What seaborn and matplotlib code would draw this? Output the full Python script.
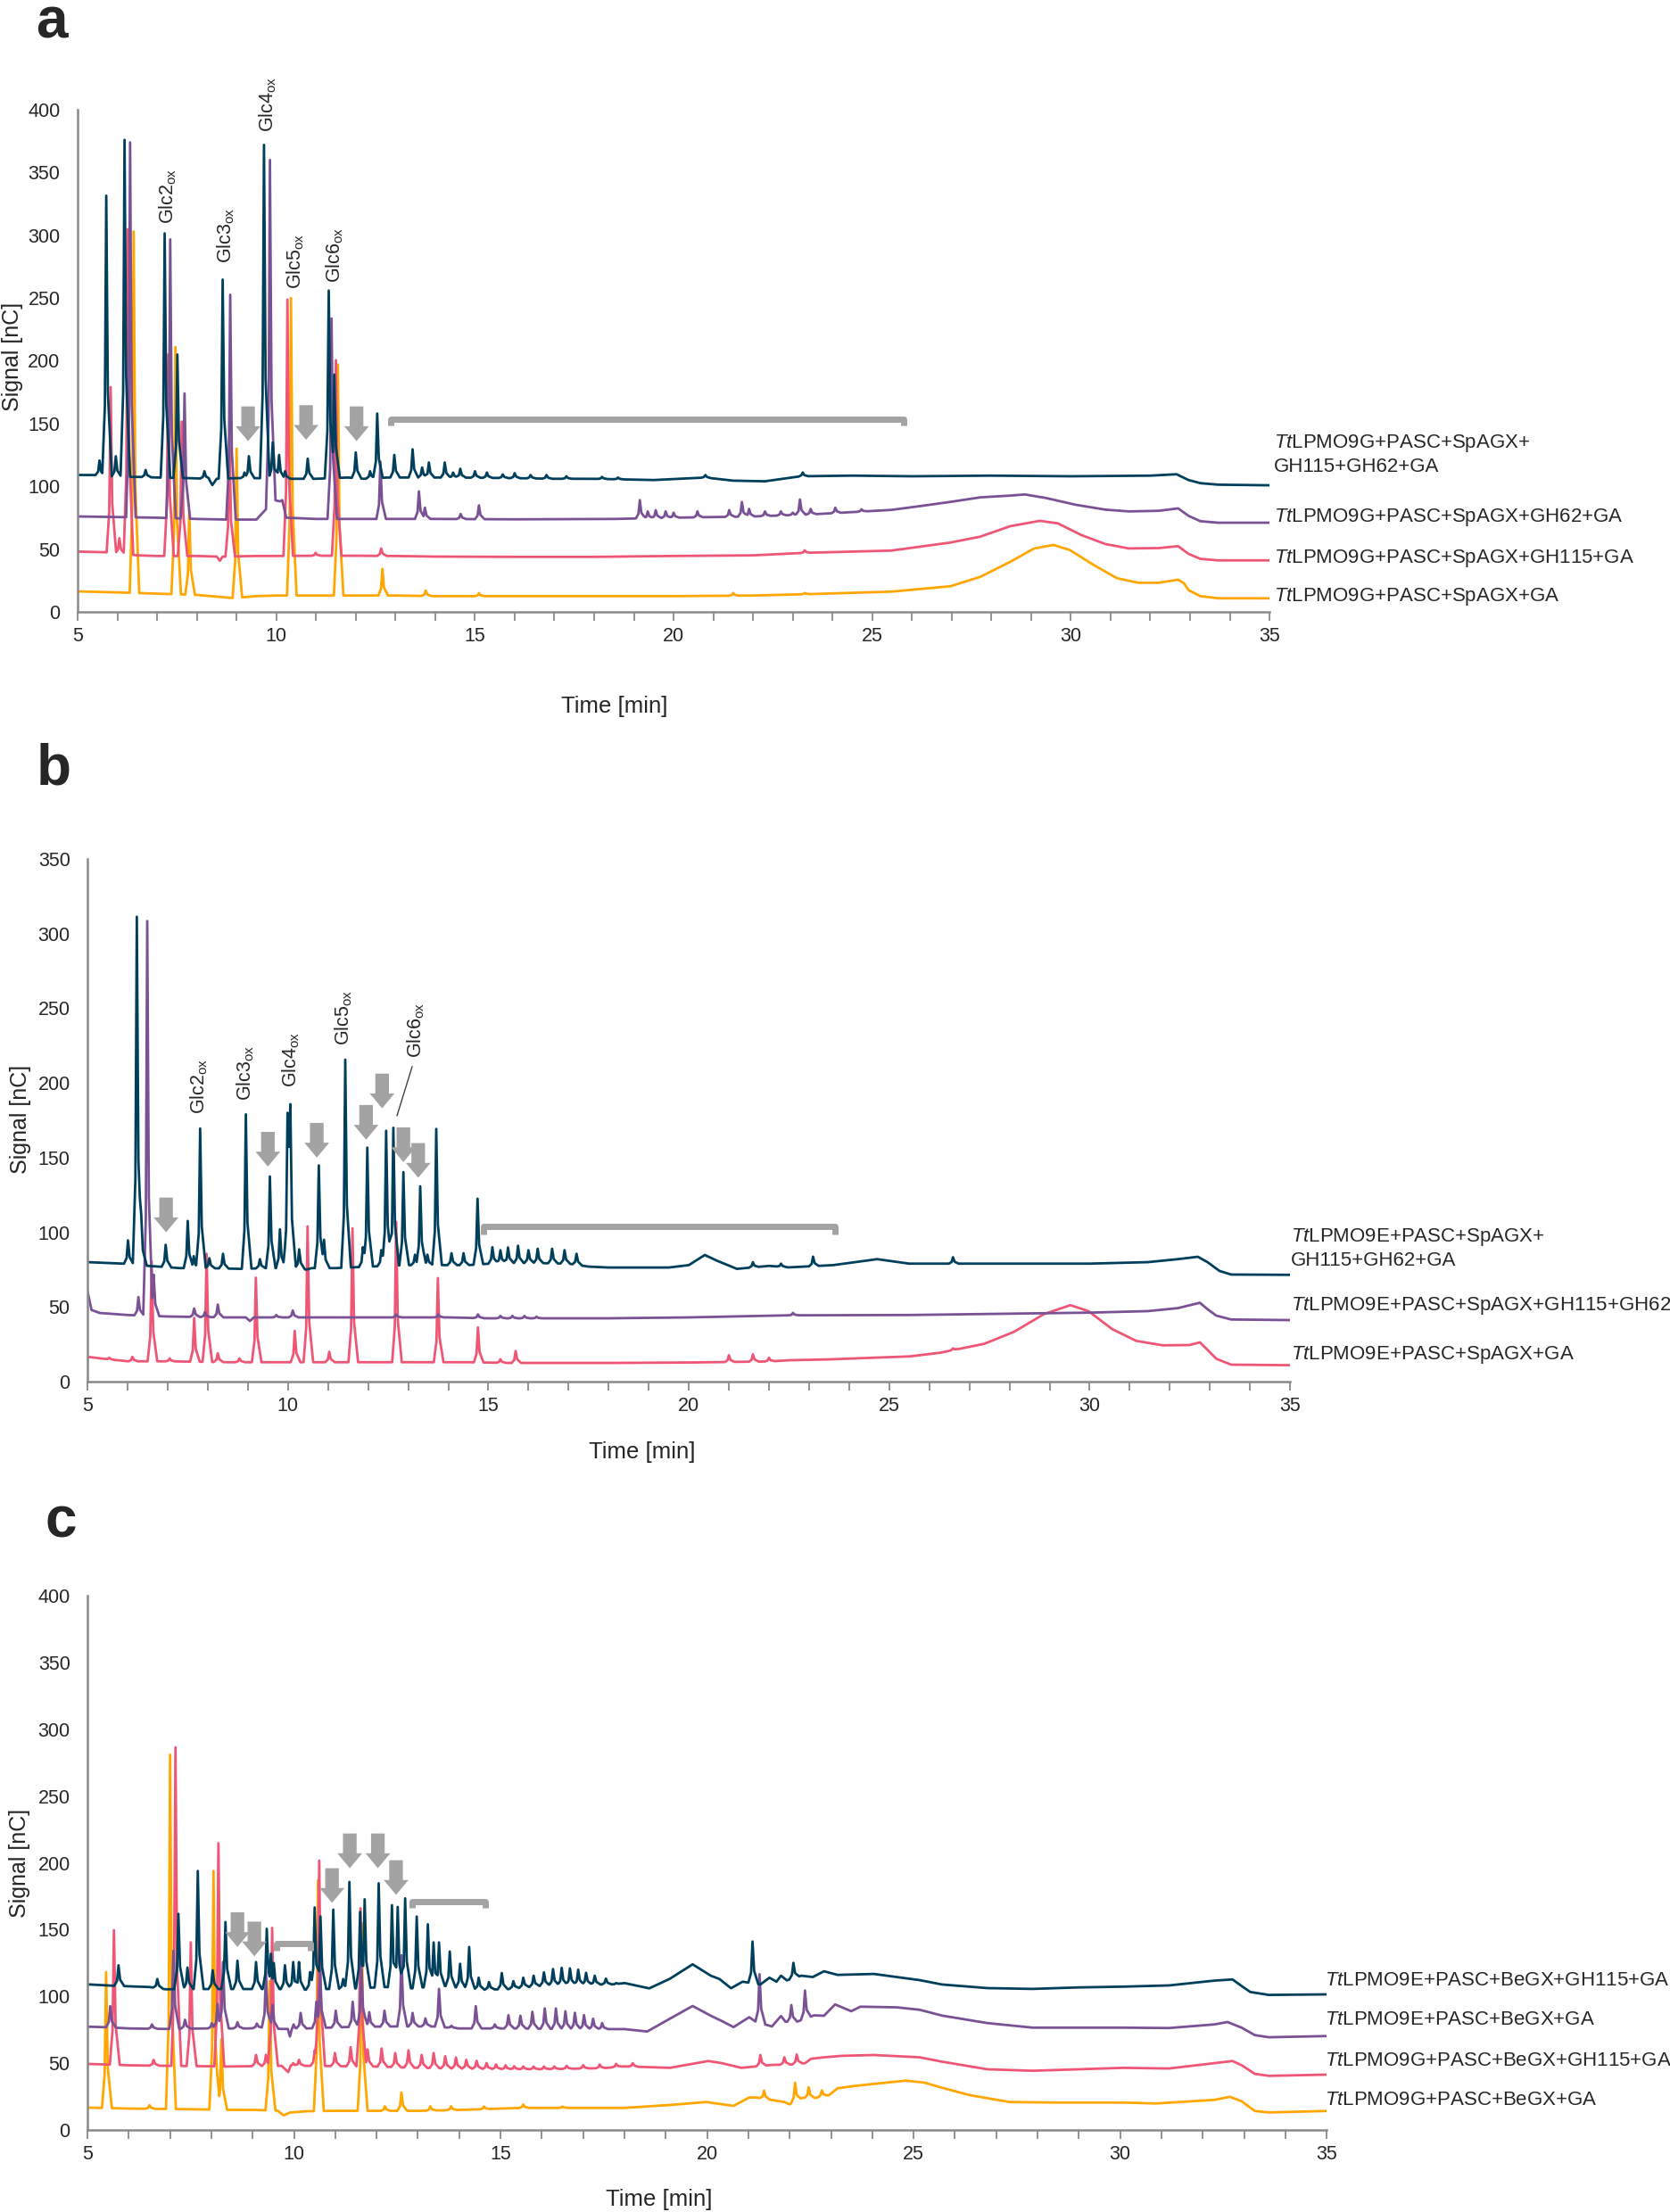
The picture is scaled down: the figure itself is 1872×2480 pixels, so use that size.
import numpy as np
import pandas as pd
import seaborn as sns
import matplotlib.pyplot as plt
from matplotlib.ticker import MultipleLocator

# ---------------- panel a : TtLPMO9G + SpAGX ----------------
a_navy_base_t = [5.0, 5.45, 5.62, 5.85, 6.05, 6.5, 7.0, 7.8, 8.3, 8.39, 8.5, 9.0, 9.5, 10.4, 11.0, 11.8, 12.2, 12.8, 13.5, 14.5,
                 16.0, 17.0, 18.0, 19.5, 20.8, 21.5, 22.3, 23.2, 24.5, 26.0, 28.0, 30.0, 32.0, 32.66, 32.96, 33.26, 33.71, 35.0]
a_navy_base_v = [109, 109, 108, 108, 107.5, 107.5, 107, 106.5, 106, 101, 106, 106.5, 106.5, 106, 106, 107, 106, 107, 107, 107,
                 106.5, 106, 106, 105, 107, 104.5, 104, 108, 108.5, 108, 108.5, 108, 108.5, 109.6, 105, 102.5, 101.3, 100.8]
a_navy_peak_t = [5.55, 5.72, 5.96, 6.18, 6.71, 7.19, 7.51, 8.19, 8.65, 9.2, 9.31, 9.69, 9.91, 10.07, 10.22, 10.79, 11.32, 11.46,
                 12.0, 12.36, 12.54, 12.97, 13.43, 13.67, 13.84, 14.24, 14.45, 14.63, 15.0, 15.3, 15.7, 16.0, 16.4, 16.8, 17.3,
                 18.2, 18.6, 20.8, 23.25]
a_navy_peak_v = [120.6, 331.5, 124, 376, 113, 301.5, 205, 112, 264.7, 111, 124, 372, 135, 125, 112, 122, 256, 189,
                 127, 112, 158, 125, 129.5, 115, 119, 119, 111, 114, 112, 111, 109.5, 110.5, 109, 109, 108,
                 107.5, 107, 109, 111]

a_purple_base_t = [5.0, 6.0, 7.0, 8.0, 8.75, 8.8, 8.85, 9.5, 9.95, 10.1, 10.15, 10.25, 11.0, 12.0, 14.0, 16.0, 18.5, 20.0,
                   22.0, 23.5, 25.48, 26.22, 26.97, 27.72, 28.47, 28.84, 29.37, 30.12, 30.87, 31.46, 32.21, 32.7, 32.96,
                   33.26, 33.71, 35.0]
a_purple_base_v = [76, 75.5, 75, 74, 73.5, 70, 73.5, 73.5, 89, 88, 89, 75, 74, 74, 74, 73.7, 74, 75,
                   76, 77.7, 81.2, 84.3, 87.6, 91.2, 92.6, 93.5, 90.7, 85.3, 81.4, 80, 80.5, 82.4, 76.5,
                   72.2, 71, 71]
a_purple_peak_t = [6.32, 7.33, 7.69, 8.84, 9.84, 11.39, 12.62, 13.59, 13.74, 14.64, 15.1, 19.15, 19.35, 19.55, 19.8, 20.0,
                   20.6, 21.4, 21.72, 21.9, 22.3, 22.7, 23.0, 23.18, 23.45, 24.07, 24.73]
a_purple_peak_v = [374, 296.7, 174, 252.6, 360, 233.7, 119.6, 96, 83, 78, 84.8, 89, 80, 81, 80, 79,
                   80, 81, 87.5, 82, 80, 80, 79, 89.5, 82, 83, 81.7]

a_pink_base_t = [5.0, 5.7, 6.5, 7.0, 8.0, 8.5, 8.58, 8.65, 9.5, 10.0, 11.0, 12.0, 13.0, 14.0, 16.0, 18.0, 20.0, 22.0, 23.3,
                 25.48, 26.97, 27.72, 28.47, 29.22, 29.67, 30.27, 30.87, 31.46, 32.21, 32.7, 32.96, 33.26, 33.71, 35.0]
a_pink_base_v = [48, 47.5, 45, 44.5, 44.5, 44, 40.7, 44, 44.5, 44.5, 44.7, 44.7, 44.5, 44, 43.8, 43.8, 44.5, 45, 47,
                 48.8, 55.2, 59.9, 68.2, 72.5, 70.5, 61.1, 54, 50.5, 50.8, 52.3, 46.2, 42.2, 41, 41]
a_pink_peak_t = [5.83, 6.05, 6.26, 7.28, 7.62, 8.82, 10.28, 10.99, 11.5, 12.64, 23.3]
a_pink_peak_v = [179, 58.7, 304.8, 205, 151.6, 138.5, 248.7, 47, 200.5, 50.5, 49]

a_orange_base_t = [5.0, 6.0, 7.0, 8.0, 8.9, 9.5, 10.0, 11.0, 12.0, 13.0, 14.0, 16.0, 18.0, 20.0, 22.0, 23.5, 25.48, 26.97,
                   27.72, 28.47, 29.07, 29.56, 29.97, 30.57, 31.16, 31.69, 32.21, 32.7, 32.85, 32.96, 33.26, 33.71, 35.0]
a_orange_base_v = [16.3, 15.5, 14.5, 13.5, 11, 12.5, 13, 13, 13, 13, 12.5, 12.5, 12.5, 12.5, 13, 14.2, 16.1, 20.4,
                   27.9, 39.8, 50.4, 53.3, 49.3, 37.4, 26.8, 23.2, 23.2, 25.6, 22.7, 17.3, 12.5, 10.8, 10.8]
a_orange_peak_t = [6.41, 7.46, 7.81, 9.0, 10.37, 11.55, 12.67, 13.76, 15.1, 21.5, 23.3]
a_orange_peak_v = [303, 211, 80, 130, 250, 197, 34.2, 17, 14.9, 15, 15]

a_labels = ['$\\it{Tt}$LPMO9G+PASC+SpAGX+\nGH115+GH62+GA', '$\\it{Tt}$LPMO9G+PASC+SpAGX+GH62+GA',
            '$\\it{Tt}$LPMO9G+PASC+SpAGX+GH115+GA', '$\\it{Tt}$LPMO9G+PASC+SpAGX+GA']
a_label_v = [125.5, 75, 42.5, 12]
a_glc_names = ['Glc2', 'Glc3', 'Glc4', 'Glc5', 'Glc6']
a_glc_t = [7.27, 8.73, 9.78, 10.49, 11.46]
a_glc_v = [309, 278, 382, 257, 262]
a_arrow_t = [9.29, 10.75, 12.02]
a_arrow_v = [136, 137, 136]
a_bracket = [(12.88, 25.8, 153.7)]

# ---------------- panel b : TtLPMO9E + SpAGX ----------------
b_navy_base_t = [5.0, 5.9, 6.5, 6.8, 7.3, 8.0, 8.8, 9.5, 10.3, 10.45, 10.6, 11.2, 12.0, 13.0, 14.0, 14.5, 15.3, 16.0, 17.0,
                 17.5, 18.0, 19.5, 20.0, 20.4, 20.7, 21.2, 22.0, 22.5, 23.6, 24.7, 25.5, 27.0, 30.0, 31.45, 32.2, 32.7,
                 32.94, 33.24, 33.53, 35.0]
b_navy_base_v = [80, 79, 77.5, 77, 76, 76, 75.5, 76, 76, 75, 76, 76, 77, 78, 78, 78, 79.5, 79.5, 79,
                 77, 76.4, 76.4, 78, 84.8, 81, 75.5, 77.5, 76.5, 78, 82, 79, 79, 79, 80, 82, 83.6,
                 80, 74.1, 71.7, 71.5]
b_navy_peak_t = [6.01, 6.23, 6.34, 6.95, 7.5, 7.65, 7.81, 8.04, 8.38, 8.95, 9.3, 9.55, 9.8, 9.99, 10.025, 10.06, 10.28,
                 10.77, 10.9, 11.43, 11.87, 11.98, 12.33, 12.45, 12.63, 12.88, 13.17, 13.3, 13.48, 13.7, 14.08, 14.38,
                 14.73, 15.1, 15.3, 15.49, 15.74, 16.0, 16.23, 16.59, 16.9, 17.2, 21.6, 22.3, 23.1, 26.59]
b_navy_peak_v = [94.6, 311.3, 112, 91.6, 107.6, 84, 169.5, 82.6, 85.6, 179, 82, 137.4, 102, 180, 165, 185.8, 88.6,
                 144.8, 95, 215.6, 90, 156.7, 88, 168, 170, 140.3, 85, 130.8, 85, 169.2, 86, 86,
                 122.5, 90, 88, 89.8, 91, 88, 89, 89, 88, 85.6, 80, 79, 83.7, 83.3]

b_purple_base_t = [5.0, 5.1, 5.3, 6.0, 7.0, 8.5, 8.95, 9.05, 9.15, 10.0, 12.0, 14.0, 15.0, 18.0, 20.0, 22.5, 25.5, 30.0,
                   31.45, 32.2, 32.75, 32.94, 33.16, 33.53, 35.0]
b_purple_base_v = [60.6, 48, 46, 44.6, 43.6, 43, 43, 40.6, 43, 43, 43, 43, 42.4, 42.4, 43, 44.4, 44.6, 46.2,
                   47.2, 49.2, 52.8, 48.5, 44.2, 41.6, 41.2]
b_purple_peak_t = [6.27, 6.49, 6.65, 7.66, 7.93, 8.25, 9.71, 10.12, 12.7, 13.75, 14.74, 15.3, 15.6, 15.9, 16.2, 22.6]
b_purple_peak_v = [56.6, 308.4, 71.6, 49, 46.6, 51.6, 44.6, 47.6, 45, 45, 45, 44, 44, 44, 43.5, 46]

b_pink_base_t = [5.0, 5.5, 6.0, 7.0, 8.5, 9.5, 10.5, 11.5, 12.5, 13.5, 14.5, 15.5, 16.0, 18.0, 20.0, 22.0, 22.5, 23.5,
                 25.52, 26.26, 27.37, 28.11, 28.86, 29.52, 29.97, 30.56, 31.16, 31.82, 32.49, 32.75, 32.94, 33.16,
                 33.53, 35.0]
b_pink_base_v = [16.6, 15, 13.6, 13.6, 13, 13, 13, 13, 13, 13, 13, 12.5, 12.5, 12.5, 12.8, 13.5, 14.3, 14.9,
                 16.9, 19.3, 25.3, 33.3, 45.2, 51.2, 47.2, 35.2, 27.3, 24.3, 24.5, 26.3, 21.3, 15.3,
                 11.35, 11]
b_pink_peak_t = [5.54, 6.12, 6.6, 7.05, 7.66, 7.97, 8.25, 8.79, 9.2, 10.17, 10.49, 11.03, 11.61, 12.7, 13.74, 14.74,
                 15.3, 15.68, 21.0, 21.6, 22.0, 26.59]
b_pink_peak_v = [16, 16.6, 80.6, 15.5, 42.6, 85.6, 19, 15.6, 69.6, 34, 104, 20, 102.6, 107, 69.3, 36.3,
                 15, 20.5, 17.7, 18.3, 16, 22.3]

b_labels = ['$\\it{Tt}$LPMO9E+PASC+SpAGX+\nGH115+GH62+GA', '$\\it{Tt}$LPMO9E+PASC+SpAGX+GH115+GH62',
            '$\\it{Tt}$LPMO9E+PASC+SpAGX+GA']
b_label_v = [89.5, 51, 18]
b_glc_names = ['Glc2', 'Glc3', 'Glc4', 'Glc5', 'Glc6']
b_glc_t = [7.78, 8.95, 10.08, 11.38, 13.2]
b_glc_v = [179, 188, 197, 225, 217]
b_arrow_t = [6.96, 9.5, 10.72, 11.95, 12.35, 12.88, 13.25]
b_arrow_v = [100, 144, 150, 162, 183, 147, 136.5]
b_bracket = [(14.88, 23.65, 103.7)]

# ---------------- panel c : BeGX ----------------
c_navy_base_t = [5.0, 5.6, 6.5, 6.9, 7.3, 7.9, 8.5, 9.0, 9.6, 10.3, 10.8, 11.5, 12.2, 12.85, 13.6, 14.1, 14.6, 15.2, 16.0,
                 17.0, 17.8, 18.0, 18.6, 19.1, 19.65, 20.09, 20.3, 20.58, 20.86, 21.29, 21.51, 21.68, 21.79, 21.93,
                 22.28, 22.56, 22.83, 23.16, 24.04, 25.14, 25.69, 26.79, 27.88, 28.98, 30.08, 31.18, 32.28, 32.72,
                 32.94, 33.15, 33.6, 35.0]
c_navy_base_v = [109, 108, 107, 105.3, 105.5, 105.5, 105.5, 105.5, 105.5, 105, 105.5, 106, 107, 106, 108, 106, 105, 105.5, 108,
                 108.8, 109, 110, 106, 113.2, 124, 115.5, 113, 106.1, 111, 108.9, 114, 111, 115.5, 112,
                 115.5, 114.5, 118.8, 116.1, 116.8, 112.2, 108.9, 106.2, 105.6, 106.7, 107.3, 108.2, 111.8, 112.7,
                 107.8, 103.3, 101.1, 101.5]
c_navy_peak_t = [5.75, 6.69, 7.2, 7.42, 7.67, 8.03, 8.34, 8.63, 9.08, 9.34, 9.44, 9.51, 9.78, 9.98, 10.12, 10.39, 10.5,
                 10.64, 10.95, 11.19, 11.34, 11.6, 11.71, 12.05, 12.37, 12.51, 12.69, 12.97, 13.24, 13.38, 13.51, 13.77,
                 14.02, 14.24, 14.47, 14.72, 15.03, 15.31, 15.55, 15.8, 16.05, 16.27, 16.48, 16.68, 16.88, 17.07, 17.28,
                 17.55, 17.8, 21.1, 22.09]
c_navy_peak_v = [123.3, 113, 161.8, 121.6, 193.9, 119.6, 155.7, 126.7, 125.7, 150.6, 131.9, 125, 123.3, 125.7, 125.7, 118.2, 166.6,
                 159.8, 165, 113, 185.7, 163.2, 172.7, 184.7, 168.3, 167, 173.4, 159.8, 154, 140.4, 140.4, 133.6,
                 124.4, 137, 114, 110.7, 117.5, 111.4, 114, 115.5, 118, 120.5, 121.4, 121, 120, 117.7, 115.5,
                 113.3, 110, 141.1, 125.1]

c_purple_base_t = [5.0, 5.4, 6.0, 6.9, 7.8, 8.9, 9.2, 9.7, 9.85, 9.9, 9.95, 10.3, 11.2, 12.4, 13.35, 14.0, 15.3, 17.0,
                   18.0, 18.55, 19.1, 19.65, 20.09, 20.36, 20.64, 21.02, 21.18, 21.57, 21.79, 21.9, 22.17, 22.59, 22.83,
                   23.1, 23.49, 23.71, 24.59, 25.14, 25.69, 26.79, 27.88, 30.08, 31.18, 32.28, 32.6, 32.94, 33.26,
                   33.6, 35.0]
c_purple_base_v = [77.3, 77, 76, 75.6, 76, 76, 76.5, 75.6, 75.6, 69.8, 75, 76, 77, 77.5, 77.5, 76, 76, 75.5,
                   75.5, 73.7, 83.3, 92.8, 85.5, 81.5, 77, 84.4, 81, 77.5, 85.3, 81, 81, 85.8, 85.5,
                   94, 88.9, 92.3, 91.8, 90, 85.6, 80, 76.6, 76.6, 76.3, 79, 80.8, 76.6, 71,
                   69.4, 70.3]
c_purple_peak_t = [5.55, 6.56, 7.08, 7.36, 8.01, 8.15, 8.28, 8.63, 9.1, 9.32, 9.48, 9.99, 10.16, 10.54, 10.63, 11.01,
                   11.42, 11.63, 11.82, 12.19, 12.6, 12.87, 13.18, 13.51, 13.81, 14.4, 14.86, 15.19, 15.48, 15.77,
                   16.07, 16.34, 16.57, 16.8, 17.02, 17.24, 17.46, 21.27, 22.04, 22.37]
c_purple_peak_v = [92.7, 79, 134.2, 82.5, 80, 94.4, 125.7, 80.7, 79.7, 118.2, 93.7, 79, 87.6, 96, 120, 89.3,
                   96, 125, 88.2, 89.3, 130.8, 87.6, 83.5, 105.6, 78, 92.7, 79, 85.9, 85.5, 88.5,
                   91, 91, 88.9, 87.7, 86, 83.3, 80, 116.6, 93.5, 104.4]

c_pink_base_t = [5.0, 5.5, 6.0, 7.0, 8.4, 9.7, 9.86, 9.92, 10.3, 11.9, 12.5, 13.0, 14.0, 15.0, 16.0, 17.5, 18.0, 19.1,
                 20.03, 20.36, 20.83, 21.57, 22.04, 22.37, 22.52, 22.83, 23.27, 24.04, 25.14, 25.69, 26.79, 27.88,
                 30.08, 31.18, 32.28, 32.72, 32.94, 33.26, 33.6, 35.0]
c_pink_base_v = [49.4, 49, 48.4, 48, 47.5, 48, 43.3, 48, 48, 47.5, 47, 46.5, 46, 45.5, 45.4, 46.3, 47.6, 46.5,
                 51.6, 50, 46.5, 48.7, 49, 50, 53.3, 54.4, 55.5, 56.1, 54.4, 51.1, 45.4, 44.3,
                 46.5, 46, 50, 51.6, 48.5, 42, 40.5, 41.4]
c_pink_peak_t = [5.64, 6.6, 7.13, 7.5, 8.17, 9.08, 9.32, 9.47, 9.98, 10.12, 10.5, 10.61, 10.99, 11.37, 11.61, 11.78,
                 12.12, 12.45, 12.77, 13.09, 13.38, 13.66, 13.92, 14.17, 14.42, 14.66, 14.89, 15.12, 15.33, 15.55,
                 15.8, 16.05, 16.3, 16.6, 17.0, 17.4, 17.8, 18.2, 21.29, 21.87, 22.17]
c_pink_peak_v = [149.6, 52.5, 286.5, 140.4, 214.7, 56.2, 56.2, 151.3, 50, 52.5, 59.6, 201.7, 57.6, 62, 166, 60.3,
                 61, 57.6, 59.6, 56.2, 57.6, 55.2, 54.2, 52.5, 51.8, 50.1, 49.1, 48.4, 47.7, 47.5,
                 47.5, 47.5, 47.5, 48, 48.5, 49, 49.5, 50, 56.1, 54.4, 56.5]

c_orange_base_t = [5.0, 6.0, 7.5, 8.5, 9.0, 9.6, 9.75, 9.9, 10.3, 11.0, 12.0, 13.0, 14.0, 15.5, 17.0, 18.0, 19.1, 19.98,
                   20.64, 21.02, 21.2, 21.55, 21.87, 22.0, 22.3, 22.62, 22.95, 23.16, 23.6, 24.04, 24.81, 25.25, 25.69,
                   26.35, 27.33, 28.43, 30.08, 30.85, 32.28, 32.66, 32.94, 33.26, 33.6, 35.0]
c_orange_base_v = [16.7, 16, 15.5, 15, 15, 14.5, 10.9, 13, 14, 14.3, 14.3, 14.3, 15, 16.5, 16.5, 16.5, 18.7, 20.9,
                   18, 24.3, 24.3, 22.5, 20.9, 19.2, 24, 24, 26, 31.2, 33, 34.5, 36.9, 35.5, 31.6,
                   26.1, 20.9, 20.5, 20.5, 19.8, 22.5, 24.8, 21.5, 14.2, 13.1, 14.2]
c_orange_peak_t = [5.45, 6.5, 7.0, 8.05, 8.24, 9.41, 10.58, 11.64, 12.2, 12.6, 13.3, 13.8, 14.6, 15.55, 16.5, 21.38,
                   22.13, 22.46, 22.78]
c_orange_peak_v = [118.2, 18.5, 281, 193.9, 68, 111.4, 187, 155, 17.7, 28, 17.7, 17.7, 17.5, 19, 17.5, 29.4,
                   35.4, 32, 29.6]

c_labels = ['$\\it{Tt}$LPMO9E+PASC+BeGX+GH115+GA', '$\\it{Tt}$LPMO9E+PASC+BeGX+GA',
            '$\\it{Tt}$LPMO9G+PASC+BeGX+GH115+GA', '$\\it{Tt}$LPMO9G+PASC+BeGX+GA']
c_label_v = [112, 82.8, 52, 22.6]
c_arrow_t = [8.63, 9.04, 10.92, 11.35, 12.03, 12.47]
c_arrow_v = [137, 130, 170, 196, 196, 176]
c_bracket = [(9.57, 10.4, 139.4), (12.87, 14.64, 171)]

colors = {'navy': '#003f5c', 'purple': '#7a5195', 'pink': '#ef5675', 'orange': '#ffa600'}
GREY = '#a3a3a3'
AXIS = '#8a8a8a'

# peak outline (min offsets / fraction of peak height)
PEAK_DT = np.array([-0.1, -0.035, 0.0, 0.04, 0.14])
PEAK_F = np.array([0.0, 0.25, 1.0, 0.3, 0.0])


def build_trace(name, base_t, base_v, peak_t, peak_v):
    base_t = np.asarray(base_t, float)
    base_v = np.asarray(base_v, float)
    grid = np.unique(np.concatenate([base_t] + [t + PEAK_DT for t in peak_t]))
    grid = grid[(grid >= 5) & (grid <= 35)]
    base = np.interp(grid, base_t, base_v)
    bump = np.zeros_like(grid)
    for t, v in zip(peak_t, peak_v):
        h = v - np.interp(t, base_t, base_v)
        bump = np.maximum(bump, h * np.interp(grid, t + PEAK_DT, PEAK_F, left=0, right=0))
    return pd.DataFrame({'time': grid, 'signal': base + bump, 'trace': name})


sns.set_theme(style='white')
plt.rcParams['font.family'] = ['Liberation Sans', 'DejaVu Sans']
plt.rcParams['mathtext.fontset'] = 'custom'
plt.rcParams['mathtext.rm'] = 'Liberation Sans'
plt.rcParams['mathtext.it'] = 'Liberation Sans:italic'
plt.rcParams['mathtext.bf'] = 'Liberation Sans:bold'

fig = plt.figure(figsize=(18.72, 24.80), dpi=100)


def draw_panel(rect, ymax, traces, labels, label_v, label_x, glc, arrows, brackets, tlab, ylab):
    ax = fig.add_axes(rect)
    df = pd.concat([build_trace(*tr) for tr in traces], ignore_index=True)
    order = [tr[0] for tr in traces]
    sns.lineplot(data=df, x='time', y='signal', hue='trace', hue_order=order, palette=colors,
                 estimator=None, sort=True, lw=2.0, legend=False, ax=ax)
    ax.set_xlim(5, 35)
    ax.set_ylim(0, ymax)
    ax.set_xticks(range(5, 36, 5))
    ax.xaxis.set_minor_locator(MultipleLocator(1))
    ax.set_yticks(range(0, ymax + 1, 50))
    ax.tick_params(axis='x', which='both', direction='out', length=7, width=1.3, color=AXIS,
                   labelsize=15.5, pad=5, bottom=True)
    ax.tick_params(axis='y', length=0, labelsize=15.5, pad=14)
    ax.set_xlabel('')
    ax.set_ylabel('')
    sns.despine(ax=ax)
    for s in ['left', 'bottom']:
        ax.spines[s].set_color(AXIS)
        ax.spines[s].set_linewidth(1.8)
    ax.text(tlab[0], tlab[1], 'Time [min]', transform=ax.transAxes, ha='center', va='center', fontsize=18.5)
    ax.text(ylab[0], ylab[1], 'Signal [nC]', transform=ax.transAxes, ha='center', va='center',
            rotation=90, fontsize=18)
    # curve names at the right end
    for lab, v in zip(labels, label_v):
        ax.text(label_x, v, lab, ha='left', va='center', fontsize=16, clip_on=False, linespacing=1.25)
    if glc is not None:
        for n, t, v in zip(*glc):
            ax.text(t, v, n + '$_{\\rm ox}$', rotation=90, ha='center', va='bottom', fontsize=15.5)
    for t, v in zip(*arrows):
        ax.annotate('', xy=(t, v), xytext=(0, 28), textcoords='offset points',
                    arrowprops=dict(arrowstyle='simple,head_length=0.6,head_width=1.0,tail_width=0.55',
                                    mutation_scale=20, color=GREY, shrinkA=0, shrinkB=0, lw=0))
    for t0, t1, v in brackets:
        ax.plot([t0, t0, t1, t1], [v - 5, v, v, v - 5], color=GREY, lw=5,
                solid_joinstyle='round', solid_capstyle='butt')
    return ax


ax_a = draw_panel([0.0465, 0.7234, 0.7137, 0.2270], 400,
                  [('orange', a_orange_base_t, a_orange_base_v, a_orange_peak_t, a_orange_peak_v),
                   ('pink', a_pink_base_t, a_pink_base_v, a_pink_peak_t, a_pink_peak_v),
                   ('purple', a_purple_base_t, a_purple_base_v, a_purple_peak_t, a_purple_peak_v),
                   ('navy', a_navy_base_t, a_navy_base_v, a_navy_peak_t, a_navy_peak_v)],
                  a_labels, a_label_v, 35.11, (a_glc_names, a_glc_t, a_glc_v), (a_arrow_t, a_arrow_v),
                  a_bracket, (0.45, -0.188), (-0.055, 0.508))

ax_b = draw_panel([0.0524, 0.3754, 0.7201, 0.2363], 350,
                  [('pink', b_pink_base_t, b_pink_base_v, b_pink_peak_t, b_pink_peak_v),
                   ('purple', b_purple_base_t, b_purple_base_v, b_purple_peak_t, b_purple_peak_v),
                   ('navy', b_navy_base_t, b_navy_base_v, b_navy_peak_t, b_navy_peak_v)],
                  b_labels, b_label_v, 35.02, (b_glc_names, b_glc_t, b_glc_v), (b_arrow_t, b_arrow_v),
                  b_bracket, (0.461, -0.135), (-0.056, 0.502))
ax_b.plot([13.1, 12.72], [211, 178], color='#404040', lw=1.0)

ax_c = draw_panel([0.0524, 0.0371, 0.7420, 0.2415], 400,
                  [('orange', c_orange_base_t, c_orange_base_v, c_orange_peak_t, c_orange_peak_v),
                   ('pink', c_pink_base_t, c_pink_base_v, c_pink_peak_t, c_pink_peak_v),
                   ('purple', c_purple_base_t, c_purple_base_v, c_purple_peak_t, c_purple_peak_v),
                   ('navy', c_navy_base_t, c_navy_base_v, c_navy_peak_t, c_navy_peak_v)],
                  c_labels, c_label_v, 34.95, None, (c_arrow_t, c_arrow_v),
                  c_bracket, (0.461, -0.130), (-0.055, 0.499))

for letter, x, y in [('a', 0.0214, 0.983), ('b', 0.0219, 0.6452), ('c', 0.0272, 0.3052)]:
    fig.text(x, y, letter, fontsize=46, fontweight='bold', ha='left', va='baseline')

fig.savefig('out.png', dpi=100)
